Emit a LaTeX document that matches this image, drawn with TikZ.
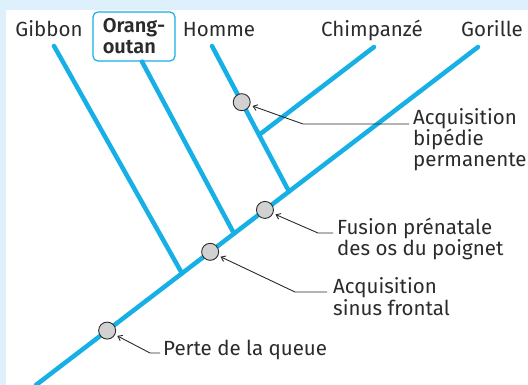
\documentclass[tikz,border=0pt]{standalone}
\usepackage{fontspec}
\setmainfont{Fira Sans}[BoldFont={Fira Sans SemiBold}]
\usetikzlibrary{positioning,arrows.meta,calc}
\definecolor{brin}{HTML}{16AFE6}
\definecolor{fond}{HTML}{DDF0FB}
\definecolor{encre}{HTML}{2B2B2B}
\definecolor{pastille}{HTML}{D1D1D1}
\tikzset{
  branch/.style={brin,line width=4.5pt,line cap=round},
  taxon/.style={anchor=base,inner sep=0pt,text=encre,font=\fontsize{20.5}{21}\selectfont},
  carac/.style={circle,draw=encre,fill=pastille,line width=0.9pt,minimum size=17pt,inner sep=0pt},
  note/.style={anchor=base west,inner sep=0pt,align=left,text=encre,font=\fontsize{20.5}{21}\selectfont},
  lead/.style={encre,line width=0.9pt,-{Straight Barb[length=4pt,width=6pt]},shorten >=2.5pt},
}

\begin{document}
\begin{tikzpicture}[x=1pt,y=-1pt]
\useasboundingbox (0,0) rectangle (528,385);
\fill[fond] (0,0) rectangle (528,385);
\fill[white] (6,10) rectangle (528,385);
% taxons
\node[taxon] (gib) at (49,37) {Gibbon};
\node[draw=brin,line width=1.2pt,rounded corners=5pt,minimum width=82pt,minimum height=49pt,
  inner sep=0pt,align=left,text=encre,font=\fontsize{20}{21}\selectfont\bfseries] (oo) at (134,36.5) {Orang-\\outan};
\node[taxon] (hom) at (219,37) {Homme};
\node[taxon] (chi) at (372,37) {Chimpanzé};
\node[taxon] (gor) at (492,37) {Gorille};
% branches
\coordinate (gorT) at (478,47);
\coordinate (root) at (36,385);
\coordinate (gibT) at (54,46);
\coordinate (homT) at (212,46);
\coordinate (chiT) at (374,47);
\coordinate (jH) at ($(gorT)!0.4276!(root)$);
\coordinate (jO) at ($(gorT)!0.552!(root)$);
\coordinate (jG) at ($(gorT)!0.6697!(root)$);
\coordinate (jC) at ($(homT)!0.611!(jH)$);
\draw[branch] (gorT) -- (root);
\draw[branch] (gibT) -- (jG);
\draw[branch] ([xshift=8pt]oo.south) -- (jO);
\draw[branch] (homT) -- (jH);
\draw[branch] (chiT) -- (jC);
% caracteres
\node[carac] (bip) at ($(homT)!0.386!(jH)$) {};
\node[carac] (fus) at ($(gorT)!0.482!(root)$) {};
\node[carac] (sin) at ($(gorT)!0.606!(root)$) {};
\node[carac] (que) at ($(gorT)!0.839!(root)$) {};
% base = last line
\node[note] (lbip) at (413,167) {Acquisition\\bipédie\\permanente};
\node[note] (lfus) at (337,255) {Fusion prénatale\\des os du poignet};
\node[note] (lsin) at (333,315) {Acquisition\\sinus frontal};
\node[note] (lque) at (163,355) {Perte de la queue};
\coordinate (kbip) at (303,124);
\coordinate (kfus) at (318,233);
\coordinate (ksin) at (295,292);
\coordinate (kque) at (150,353);
\draw[lead] ([xshift=-4pt]lbip.west |- kbip) -- (kbip) -- (bip);
\draw[lead] ([xshift=-4pt]lfus.west |- kfus) -- (kfus) -- (fus);
\draw[lead] ([xshift=-6pt]lsin.west |- ksin) -- (ksin) -- (sin);
\draw[lead] ([xshift=-3pt]lque.west |- kque) -- (kque) -- (que);
\end{tikzpicture}
\end{document}
